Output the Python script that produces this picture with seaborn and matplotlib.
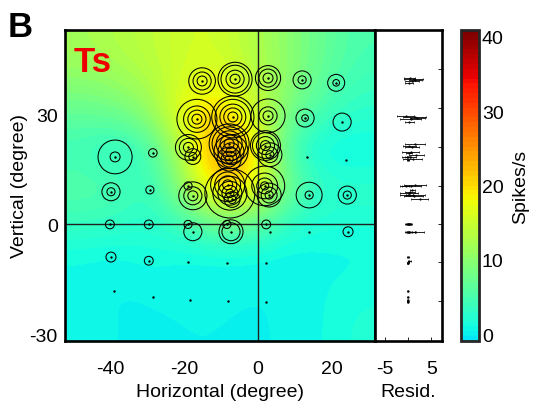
import numpy as np
import matplotlib
matplotlib.use("Agg")
import matplotlib.pyplot as plt
import seaborn as sns
import pandas as pd
from matplotlib.colors import ListedColormap, Normalize
from matplotlib.patches import Circle

sns.set_style("white")
plt.rcParams["font.family"] = ["Liberation Sans", "DejaVu Sans"]
plt.rcParams["axes.unicode_minus"] = False
plt.rcParams["text.color"] = "black"
plt.rcParams["axes.labelcolor"] = "black"
plt.rcParams["xtick.color"] = "black"
plt.rcParams["ytick.color"] = "black"

# ---------------- data ----------------
# coarse firing-rate map (spikes/s), rows bottom -> top
grid_x = [-47.4, -38.1, -28.8, -19.5, -10.2, -1.0, 8.3, 17.6, 26.9]
grid_y = [-27.0, -17.6, -8.2, 1.2, 10.6, 20.0, 29.4, 38.9, 48.3]
rate_map = [
    [1.0, 0.3, 0.3, 0.4, 0.4, 0.3, 0.5, 1.0, 2.0],
    [0.8, 0.3, 0.5, 0.6, 0.6, 0.4, 0.5, 1.0, 1.5],
    [1.0, 0.8, 1.5, 0.8, 0.8, 0.8, 0.5, 0.8, 0.8],
    [4.0, 3.5, 2.5, 5.0, 9.0, 8.0, 3.0, 2.0, 2.0],
    [6.0, 5.5, 3.0, 12.0, 22.0, 19.0, 8.0, 3.0, 3.0],
    [4.0, 2.0, 4.5, 14.0, 26.0, 20.0, 4.0, 0.5, 0.5],
    [6.5, 7.0, 10.0, 19.0, 21.0, 16.0, 8.0, 4.0, 2.5],
    [10.0, 11.0, 13.0, 16.0, 17.0, 14.0, 10.0, 6.5, 4.0],
    [12.0, 13.0, 14.0, 15.5, 15.5, 13.0, 10.0, 7.0, 5.0],
]

# stimulus positions (degree) and ring radii (degree)
stim_x = [-15.1, -6.2, 2.7, 11.9, 21.1,
          -16.5, -6.8, 2.7, 12.7, 22.7,
          -38.6, -28.4, -18.8, -17.6, -7.8, -7.3, -7.8, 2.0, 3.2, 13.2, 23.8,
          -39.7, -29.2, -18.9, -17.6, -8.2, -7.6, -7.0, 1.8, 3.0, 13.8, 24.1,
          -40.0, -29.5, -18.9, -17.6, -8.4, -7.3, 2.2, 3.2, 13.8, 24.3,
          -39.7, -29.5, -18.9, -8.4, 2.2,
          -38.9, -28.4, -18.4, -8.1, 2.2]
stim_y = [39.1, 39.6, 39.9, 39.4, 38.6,
          28.7, 29.3, 29.6, 29.0, 27.9,
          18.4, 19.5, 21.0, 18.5, 22.0, 19.8, 17.8, 21.5, 19.0, 18.4, 17.6,
          8.9, 9.4, 10.5, 7.8, 10.8, 8.5, 6.8, 10.5, 8.0, 8.0, 8.0,
          0.0, 0.0, 0.0, -2.0, 0.0, -2.0, 0.0, -2.0, -2.0, -2.0,
          -8.9, -9.9, -10.2, -10.5, -10.5,
          -18.1, -19.8, -20.6, -20.8, -21.1]
ring_radii = [
    (1.35, 2.45, 3.6), (1.35, 2.45, 3.8, 4.6), (1.35, 2.45, 3.4), (1.1, 2.45), (0.9, 2.3),
    (1.35, 2.45, 3.6, 5.4), (1.35, 2.45, 3.5, 4.8, 5.7), (1.35, 2.45, 4.6), (0.9, 2.45), (2.45,),
    (1.35, 4.6), (1.15,), (1.35, 2.45, 3.5), (1.1, 2.15), (1.35, 2.45, 3.5, 4.6, 5.4),
    (1.35, 2.45, 3.5, 4.6), (1.1, 2.15, 3.25), (1.35, 2.45, 3.5, 4.05), (1.1, 2.15, 3.25), (), (),
    (1.1, 2.45), (1.1,), (1.1,), (1.35, 2.45, 3.8), (1.35, 2.45, 3.5, 4.6),
    (1.1, 2.15, 3.25, 4.6, 6.75), (1.1, 2.15), (1.1, 2.15, 3.5, 5.4), (1.1, 2.15, 3.25), (1.1, 3.5), (1.1, 2.45),
    (1.2,), (1.2,), (1.1,), (2.45,), (1.1,), (2.45, 3.25), (1.2,), (), (), (1.35,),
    (1.35,), (1.2,), (), (), (),
    (), (), (), (), (),
]
# residuals (spikes/s) for each stimulus position
resid_val = [0.8, 1.2, 0.4, 1.6, 0.2,
             0.6, 1.4, -0.5, 2.0, 0.3,
             0.5, 0.2, 0.8, -0.3, 1.5, 0.6, 1.0, 0.3, 1.8, 0.1, 0.0,
             0.4, 0.9, -0.5, 1.2, 1.5, 0.2, 2.5, 0.6, 1.0, 0.0, 0.3,
             -0.2, 0.3, 0.1, 0.5, 0.4, 1.5, 0.2, 0.0, 0.1, 0.9,
             0.0, 0.3, 0.1, 0.0, 0.0,
             0.0, 0.0, 0.0, 0.0, 0.0]
resid_err = [1.5, 2.0, 1.2, 1.4, 0.8,
             2.2, 2.5, 1.8, 1.6, 1.0,
             1.2, 0.6, 1.5, 1.0, 2.2, 1.8, 2.0, 1.4, 1.6, 0.3, 0.2,
             1.0, 0.5, 0.8, 2.0, 2.4, 2.0, 1.8, 2.2, 2.6, 0.4, 0.8,
             0.4, 0.3, 0.5, 1.2, 0.4, 2.0, 0.3, 0.2, 0.2, 0.6,
             0.3, 0.3, 0.1, 0.1, 0.1,
             0.1, 0.1, 0.1, 0.1, 0.1]

cbar_ticks = [0, 10, 20, 30, 40]
x_ticks = [-40, -20, 0, 20]
y_ticks = [-30, 0, 30]
resid_ticks = [-5, 0, 5]
resid_ticklabels = ["-5", "", "5"]

# ---------------- styling ----------------
XLIM = (-52.2, 31.5)
YLIM = (-31.7, 53.0)
cmap = ListedColormap(plt.get_cmap("jet")(np.linspace(0.35, 1.0, 64)))
norm = Normalize(vmin=-0.9, vmax=40.9)
FS = 14

fig = plt.figure(figsize=(5.33, 4.02), dpi=100)
W, H = 533.0, 402.0
ax = fig.add_axes([64.7 / W, (H - 341.7) / H, 310 / W, 310.7 / H])
axr = fig.add_axes([374.7 / W, (H - 341.7) / H, 67 / W, 310.7 / H])
cax = fig.add_axes([461 / W, (H - 342) / H, 18 / W, 311 / H])

# heat map
im = ax.imshow(np.array(rate_map), origin="lower", extent=[XLIM[0], XLIM[1], YLIM[0], YLIM[1]],
               cmap=cmap, norm=norm, interpolation="bicubic", aspect="auto", zorder=0)
ax.axhline(0, color="#202020", lw=1.0, zorder=1)
ax.axvline(0, color="#202020", lw=1.0, zorder=1)

# concentric rings
for x, y, rr in zip(stim_x, stim_y, ring_radii):
    for r in rr:
        ax.add_patch(Circle((x, y), r, fill=False, ec="black", lw=0.75, zorder=3))

df = pd.DataFrame({"x": stim_x, "y": stim_y, "r": resid_val, "e": resid_err})
sns.scatterplot(data=df, x="x", y="y", ax=ax, color="black", s=3, linewidth=0, zorder=4, legend=False)

ax.set_xlim(*XLIM)
ax.set_ylim(*YLIM)
ax.set_xticks(x_ticks)
ax.set_yticks(y_ticks)
ax.tick_params(axis="both", length=0, labelsize=FS)
ax.tick_params(axis="x", pad=14)
ax.tick_params(axis="y", pad=5)
ax.set_xlabel("Horizontal (degree)", fontsize=FS, labelpad=4)
ax.set_ylabel("Vertical (degree)", fontsize=FS, labelpad=1)
for sp in ax.spines.values():
    sp.set_linewidth(1.9)
    sp.set_color("black")
ax.text(0.028, 0.868, "Ts", transform=ax.transAxes, color="#ee0000", fontsize=25,
        fontweight="bold", va="baseline", ha="left")

# residual panel
axr.errorbar(df["r"], df["y"], xerr=df["e"], fmt="none", ecolor="black", elinewidth=0.6,
             capsize=1.0, capthick=0.5)
sns.scatterplot(data=df, x="r", y="y", ax=axr, color="black", s=2.5, linewidth=0, legend=False)
axr.set_xlim(-7.1, 7.2)
axr.set_ylim(*YLIM)
axr.set_xticks(resid_ticks)
axr.set_xticklabels(resid_ticklabels)
axr.set_yticks([42.4, 31.7, 21.1, 10.5, 0.0, -10.2, -20.8])
axr.tick_params(axis="x", direction="in", length=3, width=0.6, labelsize=FS, pad=14, bottom=True)
axr.tick_params(axis="y", direction="in", length=3, width=0.6, left=False, right=True,
                labelleft=False, labelright=False)
axr.set_xlabel("Resid.", fontsize=FS, labelpad=4)
axr.set_ylabel("")
for sp in axr.spines.values():
    sp.set_linewidth(1.9)
    sp.set_color("black")

# colour bar
cb = fig.colorbar(im, cax=cax, ticks=cbar_ticks)
cb.outline.set_linewidth(2.0)
cax.tick_params(length=0, labelsize=FS, pad=2)
cb.set_label("Spikes/s", fontsize=FS, labelpad=6)

fig.text(8 / W, 1 - 37 / H, "B", fontsize=25, fontweight="bold", va="baseline", ha="left")

fig.savefig("out.png", dpi=100)
